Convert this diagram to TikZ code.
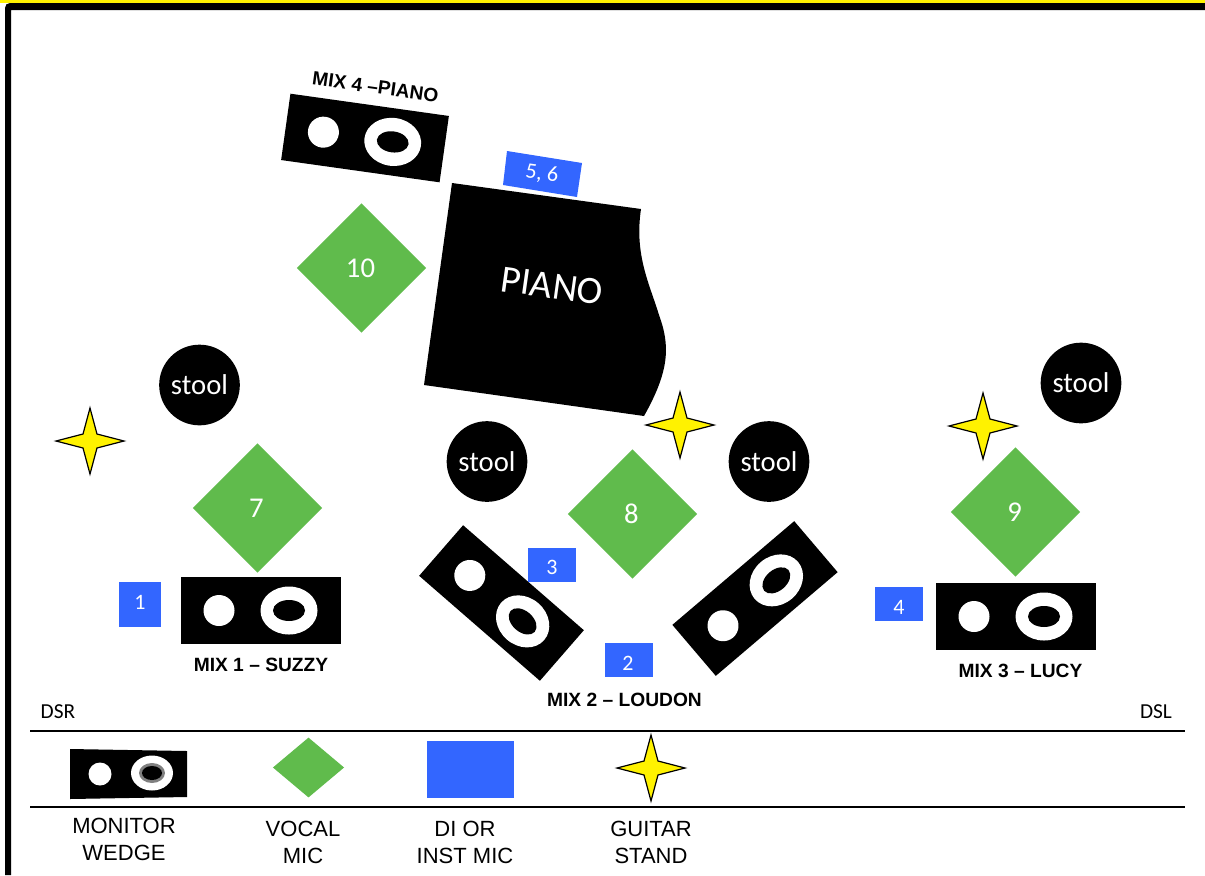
\documentclass[tikz,border=0pt]{standalone}
\usepackage{fontspec}
\setmainfont{Carlito}
\newfontfamily\arialf{Liberation Sans}
\usetikzlibrary{shapes.geometric}
\definecolor{micgreen}{HTML}{60BB4C}
\definecolor{diblue}{HTML}{3366FF}
\newcommand{\monitorwedge}[3]{%
  \begin{scope}[shift={(#1)},rotate=#2,scale=#3]
    \fill[black] (-80,-33.5) rectangle (80,33.5);
    \fill[white] (-42,0) circle [x radius=15.5,y radius=15.5];
    \fill[white] (28,0) circle [x radius=28.5,y radius=24];
    \fill[black] (28,0) circle [x radius=16,y radius=10.5];
  \end{scope}}
\newcommand{\guitarstar}[1]{%
  \begin{scope}[shift={(#1)}]
    \draw[black,fill=yellow,line width=.9pt,line join=miter] (0,-33) -- (7,-7) -- (34,0) -- (7,7) -- (0,33) -- (-7,7) -- (-34,0) -- (-7,-7) -- cycle;
  \end{scope}}
\tikzset{
  x=.75pt,y=-.75pt,
  vocal/.style={diamond,fill=micgreen,text=white,minimum width=97pt,minimum height=97pt,inner sep=0pt,font=\fontsize{21.5}{24}\selectfont},
  stoolmark/.style={circle,fill=black,text=white,minimum size=60.5pt,inner sep=0pt,font=\fontsize{21.5}{24}\selectfont},
  diboxnum/.style={text=white,inner sep=0pt,font=\fontsize{16.5}{19}\selectfont},
  mixlabel/.style={inner sep=0pt,font=\arialf\bfseries\fontsize{14.4}{16}\selectfont},
  stagemark/.style={inner sep=0pt,font=\fontsize{16}{18}\selectfont},
  legendtext/.style={inner sep=0pt,align=center,font=\arialf\fontsize{16.5}{20.25}\selectfont},
  rule/.style={black,line width=1.1pt}
}
\begin{document}
\begin{tikzpicture}
\useasboundingbox (0,0) rectangle (1205,875);
\fill[white] (0,0) rectangle (1205,875);
% top stripe and frame
\fill[yellow] (0,0) rectangle (1205,3);
\fill[black] (5,875) -- (5,8) .. controls (5,5) and (7,3) .. (10,3) -- (1205,3) -- (1205,10) -- (11,10) -- (11,875) -- cycle;
% monitors
\monitorwedge{365,138}{-8}{1}
\monitorwedge{261,610.5}{0}{1}
\monitorwedge{501.5,603}{-41}{1}
\monitorwedge{755,598.5}{40.4}{1}
\monitorwedge{1016,616.5}{0}{1}
% piano
\fill[black] (452,183) -- (641,209) .. controls (634,255) and (650,285) .. (659,315) .. controls (670,345) and (670,370) .. (644,416) -- (424,385) -- cycle;
\node[rotate=-8,text=white,inner sep=0pt,font=\fontsize{29}{32}\selectfont] (pianolabel) at (552,286) {PIANO};
% DI boxes
\fill[diblue] (507,151) -- (582,163) -- (577,197) -- (503,185) -- cycle;
\node[diboxnum,rotate=-8] (di56) at (542,174) {5, 6};
\fill[diblue] (119,582) rectangle (161,627);
\node[diboxnum] (di1) at (140,602) {1};
\fill[diblue] (528,548) rectangle (576,582);
\node[diboxnum] (di3) at (552,567) {3};
\fill[diblue] (605,643) rectangle (653,677);
\node[diboxnum] (di2) at (628,663) {2};
\fill[diblue] (875,587) rectangle (923,621);
\node[diboxnum] (di4) at (899,607) {4};
% vocal mics
\node[vocal] (mic10) at (361.5,268) {\makebox[0pt]{\hspace{-1.5pt}10}};
\node[vocal] (mic7) at (257.5,508) {\makebox[0pt]{\hspace{-1.5pt}7}};
\node[vocal] (mic8) at (632.5,514) {\makebox[0pt]{\hspace{-1.5pt}8}};
\node[vocal] (mic9) at (1015.5,512) {\makebox[0pt]{\hspace{-1.5pt}9}};
% stools
\node[stoolmark] (stool1) at (199.5,385) {stool};
\node[stoolmark] (stool2) at (487,461.5) {stool};
\node[stoolmark] (stool3) at (769,461.5) {stool};
\node[stoolmark] (stool4) at (1081,383) {stool};
% guitar stands
\guitarstar{90,441}
\guitarstar{680,425}
\guitarstar{983,426}
% labels
\node[mixlabel,rotate=-8] (mix4) at (375.5,87) {MIX 4 –PIANO};
\node[mixlabel] (mix1) at (261,665) {MIX 1 – SUZZY};
\node[mixlabel] (mix2) at (624.5,700) {MIX 2 – LOUDON};
\node[mixlabel] (mix3) at (1020.5,671) {MIX 3 – LUCY};
\node[stagemark] (dsr) at (58,712) {DSR};
\node[stagemark] (dsl) at (1156,712) {DSL};
% legend
\coordinate (ruleAl) at (30,731); \coordinate (ruleAr) at (1185,731);
\coordinate (ruleBl) at (30,807); \coordinate (ruleBr) at (1185,807);
\draw[rule] (ruleAl) -- (ruleAr);
\draw[rule] (ruleBl) -- (ruleBr);
\fill[black] (70,749) -- (187,751) -- (187,797) -- (70,799) -- cycle;
\fill[white] (100,774) circle [x radius=11.5,y radius=11.5];
\fill[white] (152,773) circle [x radius=21,y radius=17.5];
\fill[gray] (152,773) circle [x radius=13,y radius=10];
\fill[black] (152,773) circle [x radius=10,y radius=7];
\node[diamond,fill=micgreen,minimum width=53.5pt,minimum height=45pt,inner sep=0pt] (legmic) at (308.5,767.5) {};
\fill[diblue] (427,741) rectangle (514,798);
\guitarstar{651,768}
\node[legendtext] (legA) at (124,839.5) {MONITOR\\WEDGE};
\node[legendtext] (legB) at (303,842.5) {VOCAL\\MIC};
\node[legendtext] (legC) at (465,842.5) {DI OR\\INST MIC};
\node[legendtext] (legD) at (651,842.5) {GUITAR\\STAND};
\end{tikzpicture}
\end{document}
